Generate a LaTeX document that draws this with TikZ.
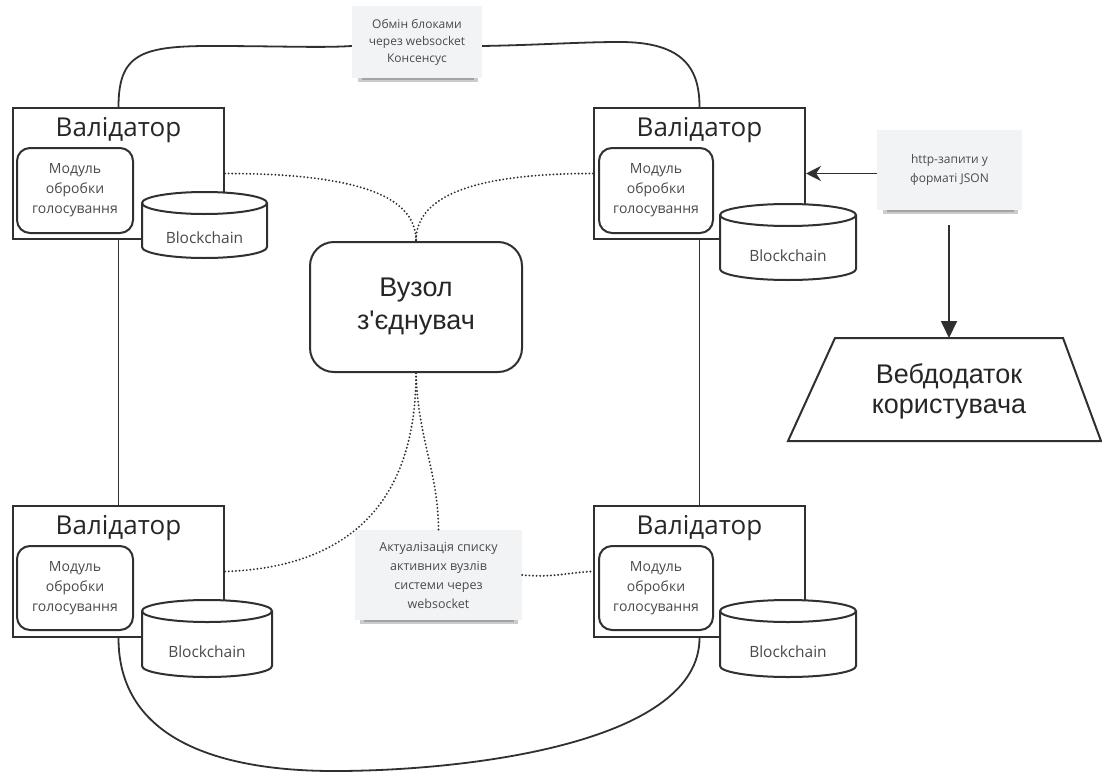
\documentclass[tikz,border=0pt]{standalone}
\usepackage{fontspec}
\setmainfont{Open Sans}
\newfontfamily\hubfont{Liberation Sans}[Ligatures=TeXOff]
\usetikzlibrary{arrows.meta}
\definecolor{ink}{HTML}{303030}
\definecolor{txt}{HTML}{4A4A4A}
\definecolor{notefill}{HTML}{F2F3F5}
\tikzset{
  valbox/.style={draw=ink, line width=2pt, fill=white, inner sep=0pt},
  modbox/.style={draw=ink, line width=2pt, fill=white, rounded corners=13pt, inner sep=0pt, align=center, text=txt, font=\fontsize{14}{20}\selectfont},
  vtitle/.style={font=\fontsize{26}{30}\selectfont, text=black!85, inner sep=0pt},
  cyltext/.style={font=\fontsize{15.5}{18}\selectfont, text=txt, inner sep=0pt},
  cylbody/.style={draw=ink, line width=2pt, fill=white},
  notebox/.style={fill=notefill, inner sep=0pt, align=center, text=txt},
  notesh/.style={fill=black, opacity=0.2},
  link/.style={draw=ink, line width=1.8pt},
  dots/.style={draw=ink, line width=2.1pt, line cap=round, dash pattern=on 0pt off 3.6pt},
  bigtext/.style={text=black!85, align=center}
}
\begin{document}
\begin{tikzpicture}[x=1pt,y=-1pt]
\useasboundingbox[fill=white] (0,0) rectangle (1102,773);

% ---------- validator boxes ----------
\node[valbox, minimum width=211, minimum height=131] (tl) at (118.5,173.5) {};
\node[valbox, minimum width=211, minimum height=131] (tr) at (699.5,173.5) {};
\node[valbox, minimum width=211, minimum height=131] (bl) at (118.5,571.5) {};
\node[valbox, minimum width=211, minimum height=131] (br) at (699.5,571.5) {};

% ---------- solid links between validators ----------
\draw[link] (tl.south) -- (bl.north);
\draw[link] (tr.south) -- (br.north);
\draw[link] (bl.south) .. controls (118.5,740) and (220,772) .. (340,771)
            .. controls (480,770) and (699.5,740) .. (br.south);

% ---------- titles ----------
\node[vtitle] (tlt) at (118.5,130) {Валідатор};
\node[vtitle] (trt) at (699.5,130) {Валідатор};
\node[vtitle] (blt) at (118.5,528) {Валідатор};
\node[vtitle] (brt) at (699.5,528) {Валідатор};

% ---------- modules ----------
\node[modbox, minimum width=116, minimum height=85] (tlm) at (75,190.5) {Модуль\\обробки\\голосування};
\node[modbox, minimum width=114, minimum height=85] (trm) at (656,190.5) {Модуль\\обробки\\голосування};
\node[modbox, minimum width=116, minimum height=84] (blm) at (75,588) {Модуль\\обробки\\голосування};
\node[modbox, minimum width=114, minimum height=84] (brm) at (656,588) {Модуль\\обробки\\голосування};

% ---------- cylinders ----------
% TL: x 142-267, y 192-258
\filldraw[cylbody] (142,203) -- (142,247) arc[start angle=180, end angle=360, x radius=62.5pt, y radius=11pt]
  -- (267,203) arc[start angle=0, end angle=180, x radius=62.5pt, y radius=11pt] -- cycle;
\draw[cylbody, fill=none] (142,203) arc[start angle=180, end angle=360, x radius=62.5pt, y radius=11pt];
\node[cyltext] (tlc) at (204.5,238) {Blockchain};
% TR: x 720-856, y 204-280
\filldraw[cylbody] (720,215) -- (720,269) arc[start angle=180, end angle=360, x radius=68pt, y radius=11pt]
  -- (856,215) arc[start angle=0, end angle=180, x radius=68pt, y radius=11pt] -- cycle;
\draw[cylbody, fill=none] (720,215) arc[start angle=180, end angle=360, x radius=68pt, y radius=11pt];
\node[cyltext] (trc) at (788,256) {Blockchain};
% BL: x 142-272, y 600-677
\filldraw[cylbody] (142,611) -- (142,666) arc[start angle=180, end angle=360, x radius=65pt, y radius=11pt]
  -- (272,611) arc[start angle=0, end angle=180, x radius=65pt, y radius=11pt] -- cycle;
\draw[cylbody, fill=none] (142,611) arc[start angle=180, end angle=360, x radius=65pt, y radius=11pt];
\node[cyltext] (blc) at (207,652) {Blockchain};
% BR: x 720-856, y 600-677
\filldraw[cylbody] (720,611) -- (720,666) arc[start angle=180, end angle=360, x radius=68pt, y radius=11pt]
  -- (856,611) arc[start angle=0, end angle=180, x radius=68pt, y radius=11pt] -- cycle;
\draw[cylbody, fill=none] (720,611) arc[start angle=180, end angle=360, x radius=68pt, y radius=11pt];
\node[cyltext] (brc) at (788,652) {Blockchain};

% ---------- hub ----------
\node[draw=ink, line width=2pt, rounded corners=24pt, fill=white, minimum width=212, minimum height=130, inner sep=0pt, bigtext, font=\hubfont\fontsize{27}{33}\selectfont] (hub) at (416,307) {Вузол\\з'єднувач};

% ---------- notes ----------
\fill[notesh] (358,76) rectangle (478,82);
\fill[notesh] (362,77) rectangle (474,80);
\node[notebox, minimum width=130, minimum height=72, font=\fontsize{12}{17}\selectfont] (topnote) at (417,42) {Обмін блоками\\через websocket\\Консенсус};

\fill[notesh] (360,617) rectangle (518,624);
\fill[notesh] (364,618) rectangle (514,622);
\node[notebox, minimum width=167, minimum height=90, font=\fontsize{12.5}{19}\selectfont] (botnote) at (438.5,575) {Актуалізація списку\\активних вузлів\\системи через\\websocket};

\fill[notesh] (883,207) rectangle (1018,214);
\fill[notesh] (887,208) rectangle (1014,212);
\node[notebox, minimum width=145, minimum height=80, font=\fontsize{12}{19}\selectfont] (rnote) at (949.5,170) {http-запити у\\форматі JSON};

% ---------- top consensus curve ----------
\draw[link] (tl.north) .. controls (118.5,55) and (140,46) .. (210,46)
            .. controls (280,46) and (320,48) .. ([yshift=-4pt]topnote.west);
\draw[link] ([yshift=-4pt]topnote.east) .. controls (540,45) and (580,42) .. (620,42)
            .. controls (685,42) and (699.5,70) .. (tr.north);

% ---------- dotted links ----------
\draw[dots] (tl.east) .. controls (380,173.5) and (416,205) .. (hub.north);
\draw[dots] (tr.west) .. controls (452,173.5) and (416,205) .. (hub.north);
\draw[dots] (hub.south) .. controls (416,520) and (330,568) .. (bl.east);
\draw[dots] (hub.south) .. controls (418,440) and (438,470) .. (botnote.north);
\draw[dots] (botnote.east) .. controls (555,578) and (570,572) .. (br.west);

% ---------- web app ----------
\draw[ink, line width=2pt] (835,338) -- (1063,338) -- (1101,441) -- (788,441) -- cycle;
\coordinate (webtop) at (949,338);
\node[bigtext, font=\hubfont\fontsize{27}{30}\selectfont] (web) at (949,391) {Вебдодаток\\користувача};

% ---------- arrows ----------
\draw[link, -{Stealth[length=15pt, width=15pt]}] (rnote.west |- tr.east) -- (tr.east);
\draw[link, -{Triangle[length=17pt, width=16pt]}] ([yshift=-15pt]rnote.south -| webtop) -- (webtop);
\end{tikzpicture}
\end{document}
